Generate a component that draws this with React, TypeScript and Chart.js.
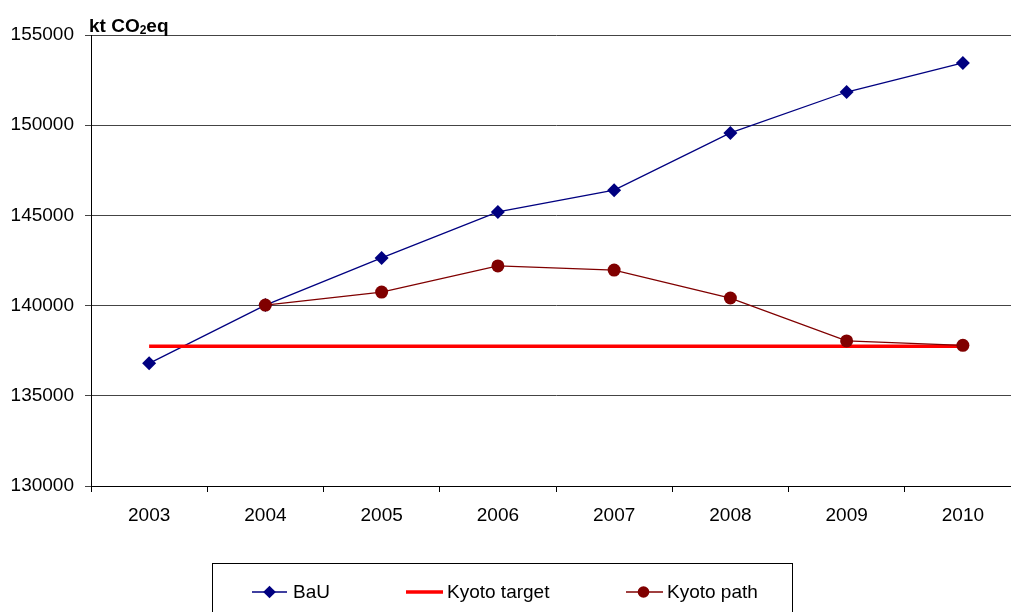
import React, { useEffect, useRef } from 'react';
import { Chart, registerables } from 'chart.js';

Chart.register(...registerables);

const years = ['2003', '2004', '2005', '2006', '2007', '2008', '2009', '2010'];
const bauValues = [136800, 140030, 142640, 145190, 146400, 149570, 151840, 153450];
const kyotoTargetValues = [137750, 137750, 137750, 137750, 137750, 137750, 137750, 137750];
const kyotoPathValues = [null, 140030, 140750, 142200, 141970, 140420, 138040, 137800];
const yMin = 130000;
const yMax = 155000;
const yStep = 5000;
const axisTitle = { main: 'kt CO', sub: '2', tail: 'eq' };
const legendLabels = ['BaU', 'Kyoto target', 'Kyoto path'];

const FONT = "'Liberation Sans', Arial, sans-serif";
const NAVY = '#000080';
const RED = '#FF0000';
const MAROON = '#800000';

const overlayPlugin = {
  id: 'overlay',
  afterDraw(chart: any) {
    const ctx = chart.ctx as CanvasRenderingContext2D;
    ctx.save();
    // axis title
    ctx.fillStyle = '#000';
    ctx.textBaseline = 'alphabetic';
    ctx.textAlign = 'left';
    ctx.font = `bold 19px ${FONT}`;
    let x = 89;
    ctx.fillText(axisTitle.main, x, 32);
    x += ctx.measureText(axisTitle.main).width;
    ctx.font = `bold 12px ${FONT}`;
    ctx.fillText(axisTitle.sub, x, 34);
    x += ctx.measureText(axisTitle.sub).width;
    ctx.font = `bold 19px ${FONT}`;
    ctx.fillText(axisTitle.tail, x, 32);

    // legend box
    ctx.strokeStyle = '#000';
    ctx.lineWidth = 1;
    ctx.strokeRect(212.5, 563.5, 580, 100);
    const ly = 592;
    ctx.font = `19px ${FONT}`;
    ctx.textBaseline = 'middle';
    // BaU
    ctx.strokeStyle = NAVY;
    ctx.lineWidth = 1.3;
    ctx.beginPath();
    ctx.moveTo(252, ly);
    ctx.lineTo(287, ly);
    ctx.stroke();
    ctx.fillStyle = NAVY;
    ctx.beginPath();
    const r = 6.3;
    ctx.moveTo(269.5, ly - r);
    ctx.lineTo(269.5 + r, ly);
    ctx.lineTo(269.5, ly + r);
    ctx.lineTo(269.5 - r, ly);
    ctx.closePath();
    ctx.fill();
    ctx.fillStyle = '#000';
    ctx.fillText(legendLabels[0], 293, ly + 1);
    // Kyoto target
    ctx.strokeStyle = RED;
    ctx.lineWidth = 3.5;
    ctx.beginPath();
    ctx.moveTo(406, ly);
    ctx.lineTo(443, ly);
    ctx.stroke();
    ctx.fillText(legendLabels[1], 447, ly + 1);
    // Kyoto path
    ctx.strokeStyle = MAROON;
    ctx.lineWidth = 1.3;
    ctx.beginPath();
    ctx.moveTo(626, ly);
    ctx.lineTo(663, ly);
    ctx.stroke();
    ctx.fillStyle = MAROON;
    ctx.beginPath();
    ctx.arc(643.5, ly, 5.8, 0, Math.PI * 2);
    ctx.fill();
    ctx.fillStyle = '#000';
    ctx.fillText(legendLabels[2], 667, ly + 1);
    ctx.restore();
  },
};

export default function App() {
  const canvasRef = useRef<HTMLCanvasElement | null>(null);

  useEffect(() => {
    if (!canvasRef.current) return;
    const chart = new Chart(canvasRef.current, {
      type: 'line',
      data: {
        labels: years,
        datasets: [
          {
            label: legendLabels[2],
            data: kyotoPathValues,
            borderColor: MAROON,
            backgroundColor: MAROON,
            borderWidth: 1.3,
            pointStyle: 'circle',
            pointRadius: 6.5,
            pointBorderWidth: 0,
            pointBackgroundColor: MAROON,
            order: 0,
          },
          {
            label: legendLabels[1],
            data: kyotoTargetValues,
            borderColor: RED,
            backgroundColor: RED,
            borderWidth: 3.5,
            pointRadius: 0,
            order: 1,
          },
          {
            label: legendLabels[0],
            data: bauValues,
            borderColor: NAVY,
            backgroundColor: NAVY,
            borderWidth: 1.3,
            pointStyle: 'rectRot',
            pointRadius: 7,
            pointBorderWidth: 0,
            pointBackgroundColor: NAVY,
            order: 2,
          },
        ],
      },
      options: {
        responsive: false,
        animation: false,
        events: [],
        layout: { padding: { left: 0, top: 35, right: 19, bottom: 0 } },
        plugins: {
          legend: { display: false },
          tooltip: { enabled: false },
          title: { display: false },
        },
        elements: { line: { tension: 0 } },
        scales: {
          x: {
            type: 'category',
            offset: true,
            grid: {
              offset: true,
              drawOnChartArea: false,
              drawTicks: true,
              tickLength: 6,
              color: '#000',
            },
            border: { color: '#000', width: 1 },
            ticks: {
              color: '#000',
              font: { family: FONT, size: 19 },
              padding: 12,
              maxRotation: 0,
              autoSkip: false,
            },
            afterFit(scale: any) {
              scale.height = 126;
            },
          },
          y: {
            type: 'linear',
            min: yMin,
            max: yMax,
            grid: {
              color: '#444',
              tickLength: 6,
              drawTicks: true,
            },
            border: { color: '#000', width: 1 },
            ticks: {
              stepSize: yStep,
              color: '#000',
              font: { family: FONT, size: 19 },
              padding: 11,
              callback: (v: any) => String(v),
            },
            afterFit(scale: any) {
              scale.width = 91;
            },
          },
        },
      },
      plugins: [overlayPlugin],
    });
    return () => chart.destroy();
  }, []);

  return (
    <div
      style={{
        position: 'fixed',
        left: 0,
        top: 0,
        width: 1011,
        height: 612,
        overflow: 'hidden',
        background: '#fff',
      }}
    >
      <canvas ref={canvasRef} width={1040} height={612} style={{ width: 1040, height: 612, display: 'block' }} />
    </div>
  );
}
